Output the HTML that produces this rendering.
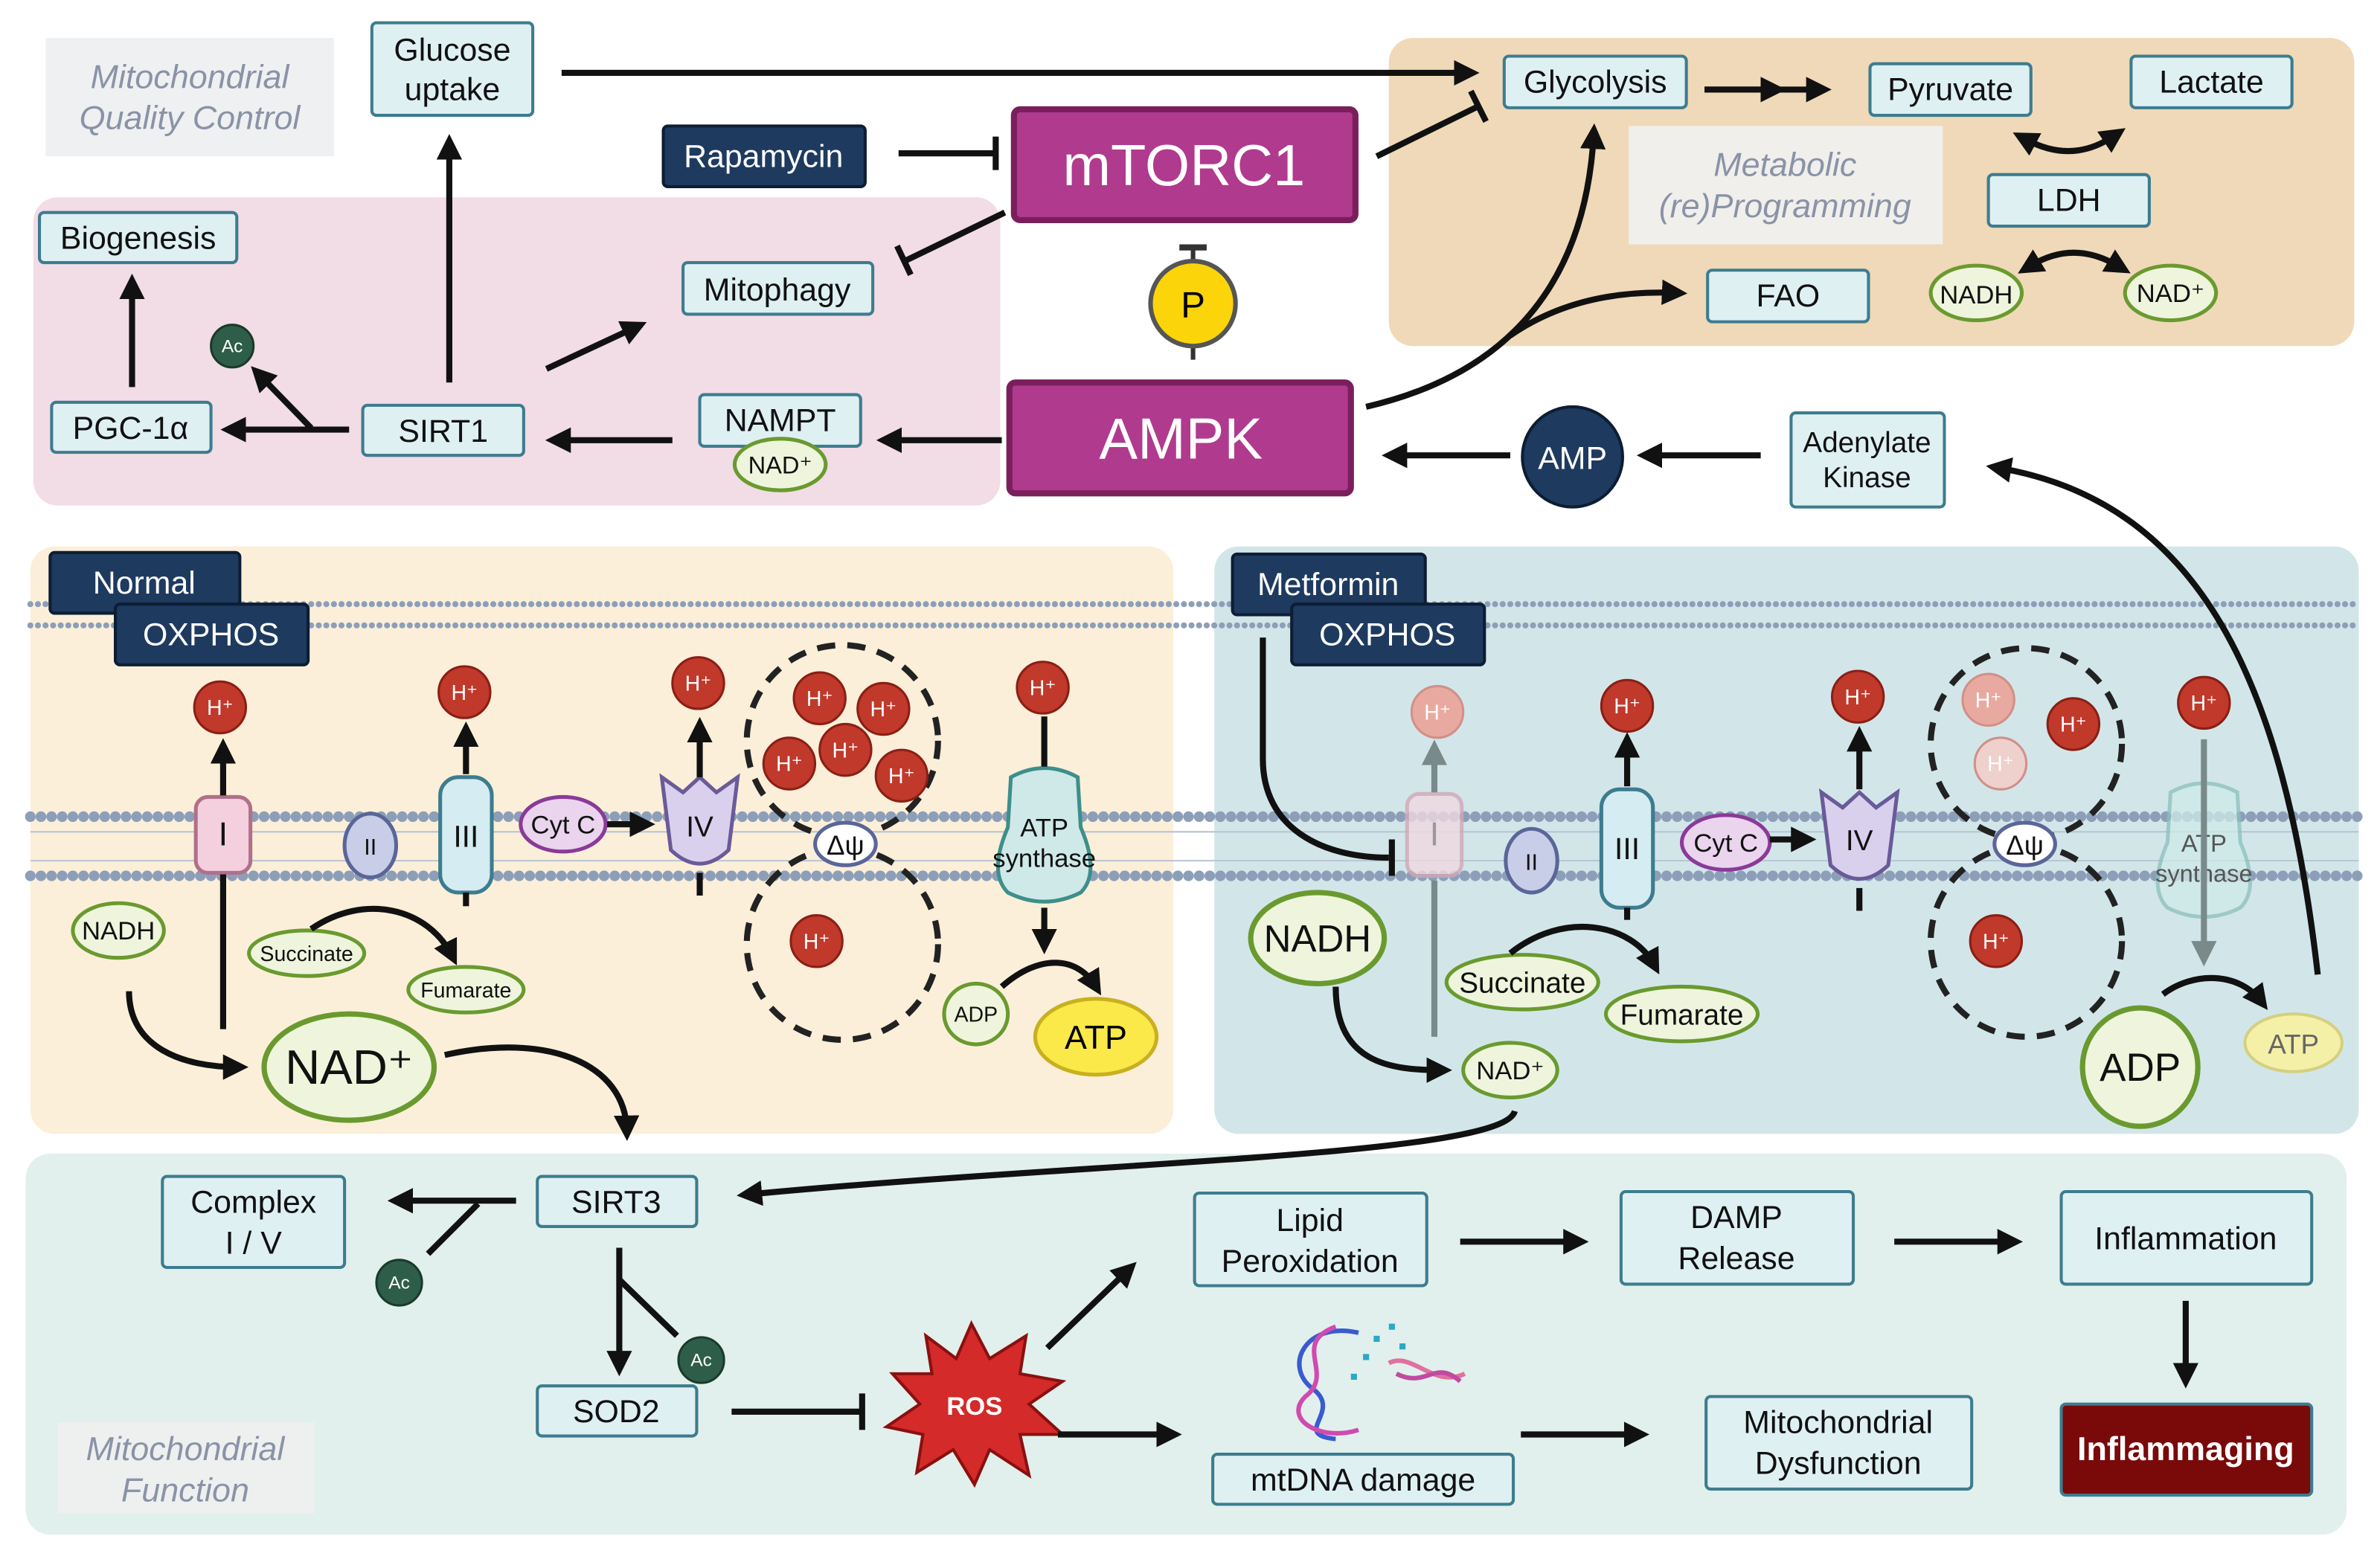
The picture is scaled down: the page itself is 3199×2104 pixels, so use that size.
<!DOCTYPE html>
<html><head><meta charset="utf-8"><style>
html,body{margin:0;padding:0;background:#fff}
svg{display:block}
text{font-family:"Liberation Sans",Arial,sans-serif}
</style></head><body>
<svg width="3199" height="2104" viewBox="0 0 1568 1031" preserveAspectRatio="none" xmlns="http://www.w3.org/2000/svg">
<defs>
<marker id="a" viewBox="0 0 10 10" refX="6" refY="5" markerWidth="4.2" markerHeight="4.2" orient="auto"><path d="M0,0 L10,5 L0,10 z" fill="#111"/></marker>
<marker id="ag" viewBox="0 0 10 10" refX="6" refY="5" markerWidth="4.2" markerHeight="4.2" orient="auto"><path d="M0,0 L10,5 L0,10 z" fill="#7a8a8a"/></marker>
<marker id="as" viewBox="0 0 10 10" refX="4" refY="5" markerWidth="4.2" markerHeight="4.2" orient="auto-start-reverse"><path d="M0,0 L10,5 L0,10 z" fill="#111"/></marker>
</defs>
<rect width="1568" height="1031" fill="#fff"/>
<rect x="915" y="25" width="636" height="203" rx="16" fill="#efd9b8"/>
<rect x="22" y="130" width="637" height="203" rx="16" fill="#f2dce5"/>
<rect x="20" y="360" width="753" height="387" rx="16" fill="#fbefd9"/>
<rect x="800" y="360" width="754" height="387" rx="16" fill="#d2e6ea"/>
<rect x="17" y="760" width="1529" height="251" rx="16" fill="#e1f0ec"/>
<g font-style="italic" fill="#8a93a6" font-size="22" text-anchor="middle">
<rect x="30" y="25" width="190" height="78" fill="#eff0f2"/>
<text x="125" y="58">Mitochondrial</text><text x="125" y="85">Quality Control</text>
<rect x="1073" y="83" width="207" height="78" fill="#f1efec"/>
<text x="1176" y="116">Metabolic</text><text x="1176" y="143">(re)Programming</text>
<rect x="38" y="937" width="169" height="60" fill="#eef0f0"/>
<text x="122" y="962">Mitochondrial</text><text x="122" y="989">Function</text>
</g>
<g stroke="#8d9fb8" fill="none">
<line x1="20" y1="398" x2="1554" y2="398" stroke-width="4" stroke-dasharray="0 5" stroke-linecap="round"/>
<line x1="20" y1="412" x2="1554" y2="412" stroke-width="4" stroke-dasharray="0 5" stroke-linecap="round"/>
<line x1="20" y1="538" x2="1554" y2="538" stroke-width="7" stroke-dasharray="0 7" stroke-linecap="round"/>
<line x1="20" y1="577" x2="1554" y2="577" stroke-width="7" stroke-dasharray="0 7" stroke-linecap="round"/>
<line x1="20" y1="548" x2="1554" y2="548" stroke-width="1" stroke="#b8c4d4"/>
<line x1="20" y1="567" x2="1554" y2="567" stroke-width="1" stroke="#b8c4d4"/>
</g>
<g fill="#dff0f3" stroke="#3d7c8f" stroke-width="2">
<rect x="245" y="15" width="106" height="61" rx="3"/>
<rect x="26" y="140" width="130" height="33" rx="3"/>
<rect x="450" y="173" width="125" height="34" rx="3"/>
<rect x="34" y="265" width="105" height="33" rx="3"/>
<rect x="239" y="267" width="106" height="33" rx="3"/>
<rect x="461" y="260" width="106" height="34" rx="3"/>
<rect x="991" y="37" width="120" height="34" rx="3"/>
<rect x="1232" y="42" width="106" height="34" rx="3"/>
<rect x="1404" y="37" width="106" height="34" rx="3"/>
<rect x="1310" y="115" width="106" height="34" rx="3"/>
<rect x="1125" y="178" width="106" height="34" rx="3"/>
<rect x="1180" y="272" width="101" height="62" rx="3"/>
<rect x="107" y="775" width="120" height="60" rx="3"/>
<rect x="354" y="775" width="105" height="33" rx="3"/>
<rect x="354" y="913" width="105" height="33" rx="3"/>
<rect x="787" y="786" width="153" height="61" rx="3"/>
<rect x="1068" y="785" width="153" height="61" rx="3"/>
<rect x="1358" y="785" width="165" height="61" rx="3"/>
<rect x="799" y="958" width="198" height="33" rx="3"/>
<rect x="1124" y="920" width="175" height="61" rx="3"/>
</g>
<g fill="#111" font-size="21" text-anchor="middle">
<text x="298" y="40">Glucose</text><text x="298" y="66">uptake</text>
<text x="91" y="164">Biogenesis</text>
<text x="512" y="198">Mitophagy</text>
<text x="86" y="289">PGC-1α</text>
<text x="292" y="291">SIRT1</text>
<text x="514" y="284">NAMPT</text>
<text x="1051" y="61">Glycolysis</text>
<text x="1285" y="66">Pyruvate</text>
<text x="1457" y="61">Lactate</text>
<text x="1363" y="139">LDH</text>
<text x="1178" y="202">FAO</text>
<text x="1230" y="298" font-size="19">Adenylate</text><text x="1230" y="321" font-size="19">Kinase</text>
<text x="167" y="799">Complex</text><text x="167" y="826">I / V</text>
<text x="406" y="799">SIRT3</text>
<text x="406" y="937">SOD2</text>
<text x="863" y="811">Lipid</text><text x="863" y="838">Peroxidation</text>
<text x="1144" y="809">DAMP</text><text x="1144" y="836">Release</text>
<text x="1440" y="823">Inflammation</text>
<text x="898" y="982">mtDNA damage</text>
<text x="1211" y="944">Mitochondrial</text><text x="1211" y="971">Dysfunction</text>
</g>
<g fill="#1e3a5f" stroke="#0d1d33" stroke-width="2">
<rect x="437" y="83" width="133" height="40" rx="3"/>
<rect x="33" y="364" width="125" height="40" rx="3"/>
<rect x="76" y="398" width="127" height="40" rx="3"/>
<rect x="812" y="365" width="127" height="40" rx="3"/>
<rect x="851" y="398" width="127" height="40" rx="3"/>
</g>
<g fill="#fff" font-size="21" text-anchor="middle">
<text x="503" y="110">Rapamycin</text>
<text x="95" y="391">Normal</text>
<text x="139" y="425">OXPHOS</text>
<text x="875" y="392">Metformin</text>
<text x="914" y="425">OXPHOS</text>
</g>
<rect x="668" y="72" width="225" height="73" rx="4" fill="#b03a8e" stroke="#7a1f5c" stroke-width="4"/>
<rect x="665" y="252" width="225" height="73" rx="4" fill="#b03a8e" stroke="#7a1f5c" stroke-width="4"/>
<text x="780" y="122" font-size="38" fill="#fff" text-anchor="middle">mTORC1</text>
<text x="778" y="302" font-size="38" fill="#fff" text-anchor="middle">AMPK</text>
<rect x="1358" y="925" width="165" height="60" rx="3" fill="#7a0a0a" stroke="#3d7c8f" stroke-width="2"/>
<text x="1440" y="962" font-size="22" fill="#fff" font-weight="bold" text-anchor="middle">Inflammaging</text>
<line x1="786" y1="163" x2="786" y2="237" stroke="#333" stroke-width="3"/>
<line x1="777" y1="163" x2="795" y2="163" stroke="#333" stroke-width="4"/>
<circle cx="786" cy="200" r="28" fill="#fbd40a" stroke="#555" stroke-width="3"/>
<text x="786" y="209" font-size="24" text-anchor="middle">P</text>
<circle cx="1036" cy="301" r="33" fill="#1e3a5f" stroke="#0d1d33" stroke-width="2"/>
<text x="1036" y="309" font-size="21" fill="#fff" text-anchor="middle">AMP</text>
<g fill="#eef5dc" stroke="#6a9a2f" stroke-width="2.5">
<ellipse cx="514" cy="306" rx="30" ry="17"/>
<ellipse cx="1302" cy="193" rx="30" ry="18"/>
<ellipse cx="1430" cy="193" rx="30" ry="18"/>
<ellipse cx="78" cy="613" rx="30" ry="18"/>
<ellipse cx="202" cy="628" rx="38" ry="15"/>
<ellipse cx="307" cy="652" rx="38" ry="15"/>
<ellipse cx="230" cy="703" rx="56" ry="35" stroke-width="3.5"/>
<ellipse cx="643" cy="668" rx="21" ry="20"/>
<ellipse cx="868" cy="618" rx="44" ry="30" stroke-width="3.5"/>
<ellipse cx="1003" cy="647" rx="50" ry="18"/>
<ellipse cx="1108" cy="668" rx="50" ry="18"/>
<ellipse cx="995" cy="705" rx="31" ry="18"/>
<ellipse cx="1410" cy="703" rx="38" ry="39" stroke-width="3.5"/>
</g>
<g fill="#111" text-anchor="middle">
<text x="514" y="312" font-size="16">NAD⁺</text>
<text x="1302" y="200" font-size="17">NADH</text>
<text x="1430" y="199" font-size="17">NAD⁺</text>
<text x="78" y="619" font-size="17">NADH</text>
<text x="202" y="633" font-size="14">Succinate</text>
<text x="307" y="657" font-size="14">Fumarate</text>
<text x="230" y="714" font-size="32">NAD⁺</text>
<text x="643" y="673" font-size="14">ADP</text>
<text x="868" y="627" font-size="25">NADH</text>
<text x="1003" y="654" font-size="19">Succinate</text>
<text x="1108" y="675" font-size="19">Fumarate</text>
<text x="995" y="711" font-size="17">NAD⁺</text>
<text x="1410" y="712" font-size="26">ADP</text>
</g>
<ellipse cx="722" cy="683" rx="40" ry="25" fill="#fbe94a" stroke="#c8b020" stroke-width="2.5"/>
<text x="722" y="691" font-size="22" text-anchor="middle">ATP</text>
<ellipse cx="1511" cy="687" rx="32" ry="19" fill="#f4f0a8" stroke="#d4d080" stroke-width="2"/>
<text x="1511" y="694" font-size="18" fill="#666" text-anchor="middle">ATP</text>
<g fill="#2e5e4a" stroke="#1a3a2c" stroke-width="1.5">
<circle cx="153" cy="228" r="14"/><circle cx="263" cy="845" r="15"/><circle cx="462" cy="896" r="15"/>
</g>
<g fill="#fff" font-size="12" text-anchor="middle">
<text x="153" y="232">Ac</text><text x="263" y="849">Ac</text><text x="462" y="900">Ac</text>
</g>
<g fill="none" stroke="#222" stroke-width="4" stroke-dasharray="12 8">
<circle cx="555" cy="488" r="63"/><circle cx="555" cy="622" r="63"/>
<circle cx="1335" cy="490" r="63"/><circle cx="1335" cy="620" r="63"/>
</g>
<g stroke-width="2.5">
<rect x="129" y="525" width="36" height="50" rx="8" fill="#f4cfdd" stroke="#b0708a"/>
<ellipse cx="244" cy="557" rx="17" ry="21" fill="#c8cde8" stroke="#5a6698"/>
<rect x="290" y="512" width="34" height="76" rx="12" fill="#d4ecf2" stroke="#3d7c8f"/>
<ellipse cx="371" cy="543" rx="28" ry="18" fill="#ead4ee" stroke="#8a3a98"/>
<path d="M436,512 L450,522 L461,512 L472,522 L486,512 L480,560 Q461,578 442,560 Z" fill="#d9d0ee" stroke="#6a5a98"/>
<ellipse cx="557" cy="556" rx="20" ry="14" fill="#fff" stroke="#5a6698"/>
<path d="M666,512 Q688,500 710,512 L712,545 Q725,575 712,588 Q688,600 664,588 Q651,575 664,545 Z" fill="#cfe9e8" stroke="#3d8f8a"/>
</g>
<g fill="#111" text-anchor="middle">
<text x="147" y="557" font-size="22">I</text>
<text x="244" y="563" font-size="15">II</text>
<text x="307" y="558" font-size="20">III</text>
<text x="371" y="549" font-size="17">Cyt C</text>
<text x="461" y="551" font-size="19">IV</text>
<text x="557" y="563" font-size="18">Δψ</text>
<text x="688" y="551" font-size="17">ATP</text><text x="688" y="571" font-size="17">synthase</text>
</g>
<g stroke-width="2.5">
<rect x="927" y="523" width="36" height="54" rx="8" fill="#f0d8e0" stroke="#d0a8b8" opacity="0.8"/>
<ellipse cx="1009" cy="567" rx="17" ry="21" fill="#c8cde8" stroke="#5a6698"/>
<rect x="1055" y="520" width="34" height="78" rx="12" fill="#d4ecf2" stroke="#3d7c8f"/>
<ellipse cx="1137" cy="555" rx="29" ry="18" fill="#ead4ee" stroke="#8a3a98"/>
<path d="M1200,522 L1214,532 L1225,522 L1236,532 L1250,522 L1244,570 Q1225,588 1206,570 Z" fill="#d9d0ee" stroke="#6a5a98"/>
<ellipse cx="1334" cy="556" rx="20" ry="14" fill="#fff" stroke="#5a6698"/>
<path d="M1430,522 Q1452,510 1474,522 L1476,555 Q1489,585 1476,598 Q1452,610 1428,598 Q1415,585 1428,555 Z" fill="#cfe9e8" stroke="#8ac0bc" opacity="0.75"/>
</g>
<g fill="#111" text-anchor="middle">
<text x="945" y="557" font-size="22" fill="#999">I</text>
<text x="1009" y="573" font-size="15">II</text>
<text x="1072" y="566" font-size="20">III</text>
<text x="1137" y="561" font-size="17">Cyt C</text>
<text x="1225" y="560" font-size="19">IV</text>
<text x="1334" y="563" font-size="18">Δψ</text>
<text x="1452" y="561" font-size="16" fill="#555">ATP</text><text x="1452" y="581" font-size="16" fill="#555">synthase</text>
</g>
<g fill="#c0392b" stroke="#8a1f15" stroke-width="1.5">
<circle cx="145" cy="466" r="17"/><circle cx="306" cy="456" r="17"/><circle cx="460" cy="450" r="17"/>
<circle cx="540" cy="460" r="17"/><circle cx="582" cy="467" r="17"/><circle cx="557" cy="494" r="17"/>
<circle cx="520" cy="503" r="17"/><circle cx="594" cy="511" r="17"/><circle cx="538" cy="620" r="17"/>
<circle cx="687" cy="453" r="17"/>
<circle cx="1072" cy="465" r="17"/><circle cx="1224" cy="459" r="17"/><circle cx="1366" cy="477" r="17"/>
<circle cx="1315" cy="620" r="17"/><circle cx="1452" cy="463" r="17"/>
</g>
<g fill="#e8aaa0" stroke="#d09088" stroke-width="1.5">
<circle cx="947" cy="469" r="17"/><circle cx="1310" cy="461" r="17"/><circle cx="1318" cy="503" r="17" fill="#eed0cc"/>
</g>
<g fill="#fff" font-size="14" text-anchor="middle">
<text x="145" y="471">H⁺</text><text x="306" y="461">H⁺</text><text x="460" y="455">H⁺</text>
<text x="540" y="465">H⁺</text><text x="582" y="472">H⁺</text><text x="557" y="499">H⁺</text>
<text x="520" y="508">H⁺</text><text x="594" y="516">H⁺</text><text x="538" y="625">H⁺</text>
<text x="687" y="458">H⁺</text><text x="1072" y="470">H⁺</text><text x="1224" y="464">H⁺</text>
<text x="1366" y="482">H⁺</text><text x="1315" y="625">H⁺</text><text x="1452" y="468">H⁺</text>
<text x="947" y="474">H⁺</text><text x="1310" y="466">H⁺</text><text x="1318" y="508">H⁺</text>
</g>
<polygon points="640,872 652,895 676,880 672,905 700,910 678,925 700,945 672,945 678,972 652,955 642,978 628,955 604,970 608,945 584,940 606,925 588,905 614,905 610,880 630,895" fill="#d42a2a" stroke="#8a1010" stroke-width="2"/>
<text x="642" y="932" font-size="17" font-weight="bold" fill="#fff" text-anchor="middle">ROS</text>
<g fill="none" stroke-width="3">
<path d="M895,878 C860,870 845,900 865,915 C885,930 850,945 880,948" stroke="#3a5ad0"/>
<path d="M880,874 C850,885 880,905 860,920 C845,935 870,950 895,942" stroke="#d04ab0"/>
<path d="M915,898 C930,890 945,915 965,905" stroke="#e070a0"/>
<path d="M920,905 C940,915 945,895 962,910" stroke="#c04aa0"/>
</g>
<g fill="#2aa8c8"><rect x="905" y="880" width="4" height="4"/><rect x="915" y="872" width="4" height="4"/><rect x="898" y="892" width="4" height="4"/><rect x="922" y="885" width="4" height="4"/><rect x="890" y="905" width="4" height="4"/></g>
<g stroke="#111" stroke-width="4" fill="none">
<line x1="370" y1="48" x2="968" y2="48" marker-end="url(#a)"/>
<line x1="592" y1="101" x2="656" y2="101"/><line x1="656" y1="90" x2="656" y2="112"/>
<line x1="662" y1="140" x2="596" y2="172"/><line x1="591" y1="162" x2="600" y2="181"/>
<line x1="907" y1="103" x2="974" y2="70"/><line x1="969" y1="60" x2="979" y2="80"/>
<line x1="1123" y1="59" x2="1200" y2="59" marker-end="url(#a)"/>
<line x1="1123" y1="59" x2="1170" y2="59" marker-end="url(#a)"/>
<path d="M1335,92 Q1365,108 1392,90" marker-start="url(#as)" marker-end="url(#as)"/>
<path d="M1338,175 Q1366,158 1395,175" marker-start="url(#as)" marker-end="url(#as)"/>
<path d="M900,268 C1000,245 1045,180 1050,88" marker-end="url(#a)"/>
<path d="M995,221 Q1040,190 1105,193" marker-end="url(#a)"/>
<line x1="660" y1="290" x2="584" y2="290" marker-end="url(#a)"/>
<line x1="443" y1="290" x2="366" y2="290" marker-end="url(#a)"/>
<line x1="230" y1="283" x2="152" y2="283" marker-end="url(#a)"/>
<line x1="296" y1="252" x2="296" y2="95" marker-end="url(#a)"/>
<line x1="360" y1="243" x2="420" y2="215" marker-end="url(#a)"/>
<line x1="87" y1="255" x2="87" y2="187" marker-end="url(#a)"/>
<line x1="205" y1="282" x2="170" y2="246" marker-end="url(#a)"/>
<line x1="995" y1="300" x2="917" y2="300" marker-end="url(#a)"/>
<line x1="1160" y1="300" x2="1085" y2="300" marker-end="url(#a)"/>
<path d="M1527,642 C1505,450 1450,330 1315,308" marker-end="url(#a)"/>
<line x1="147" y1="678" x2="147" y2="576"/>
<line x1="147" y1="524" x2="147" y2="493" marker-end="url(#a)"/>
<line x1="307" y1="510" x2="307" y2="482" marker-end="url(#a)"/>
<line x1="461" y1="512" x2="461" y2="479" marker-end="url(#a)"/>
<line x1="461" y1="575" x2="461" y2="590"/>
<line x1="307" y1="588" x2="307" y2="597"/>
<path d="M85,653 C85,690 120,703 157,703" marker-end="url(#a)"/>
<line x1="400" y1="543" x2="425" y2="543" marker-end="url(#a)"/>
<path d="M205,612 C240,588 282,598 298,630" marker-end="url(#a)"/>
<line x1="688" y1="472" x2="688" y2="505"/>
<line x1="688" y1="598" x2="688" y2="622" marker-end="url(#a)"/>
<path d="M660,650 C685,628 710,630 722,650" marker-end="url(#a)"/>
<path d="M293,695 C360,680 412,700 413,745" marker-end="url(#a)"/>
<path d="M832,420 L832,500 C832,545 870,565 915,565"/><line x1="917" y1="553" x2="917" y2="577"/>
<path d="M880,650 C880,700 915,705 950,705" marker-end="url(#a)"/>
<line x1="1072" y1="518" x2="1072" y2="489" marker-end="url(#a)"/>
<line x1="1072" y1="598" x2="1072" y2="606"/>
<line x1="1225" y1="520" x2="1225" y2="485" marker-end="url(#a)"/>
<line x1="1225" y1="585" x2="1225" y2="600"/>
<line x1="1166" y1="553" x2="1190" y2="553" marker-end="url(#a)"/>
<path d="M995,628 C1030,600 1075,608 1090,636" marker-end="url(#a)"/>
<path d="M1425,655 C1445,640 1475,640 1490,660" marker-end="url(#a)"/>
<path d="M998,732 C990,762 720,765 492,787" marker-end="url(#a)"/>
<line x1="340" y1="791" x2="262" y2="791" marker-end="url(#a)"/>
<line x1="315" y1="793" x2="282" y2="826"/>
<line x1="408" y1="822" x2="408" y2="900" marker-end="url(#a)"/>
<line x1="408" y1="843" x2="446" y2="880"/>
<line x1="482" y1="930" x2="568" y2="930"/><line x1="568" y1="918" x2="568" y2="942"/>
<line x1="690" y1="888" x2="744" y2="836" marker-end="url(#a)"/>
<line x1="697" y1="945" x2="772" y2="945" marker-end="url(#a)"/>
<line x1="962" y1="818" x2="1040" y2="818" marker-end="url(#a)"/>
<line x1="1248" y1="818" x2="1326" y2="818" marker-end="url(#a)"/>
<line x1="1440" y1="857" x2="1440" y2="908" marker-end="url(#a)"/>
<line x1="1002" y1="945" x2="1080" y2="945" marker-end="url(#a)"/>
</g>
<g stroke="#7a8a8a" stroke-width="4" fill="none">
<line x1="945" y1="683" x2="945" y2="580"/>
<line x1="945" y1="522" x2="945" y2="494" marker-end="url(#ag)"/>
<line x1="1452" y1="487" x2="1452" y2="630" marker-end="url(#ag)"/>
</g>
</svg>
</body></html>
